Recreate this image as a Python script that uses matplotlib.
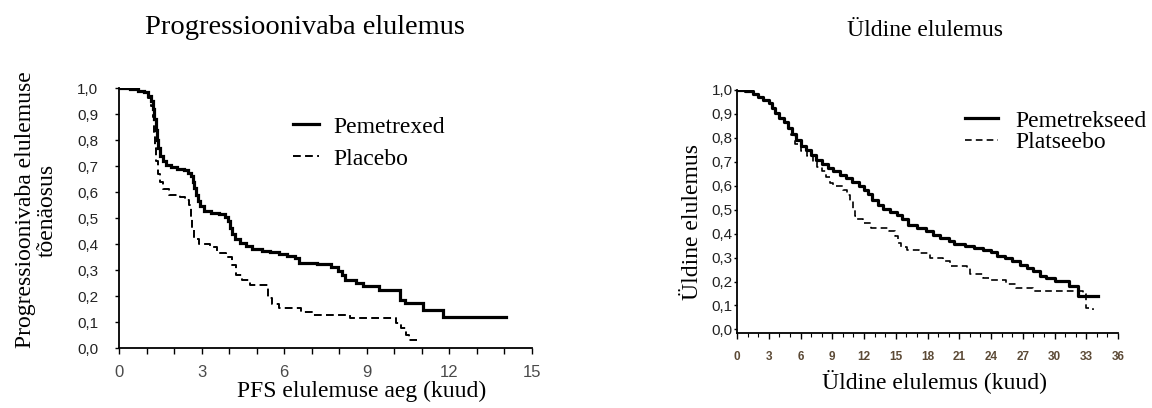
import matplotlib
matplotlib.use("Agg")
import matplotlib.pyplot as plt
from matplotlib.ticker import MultipleLocator, FixedLocator
import logging
logging.getLogger('matplotlib.font_manager').setLevel(logging.ERROR)

# ---------------- data ----------------
pfs_title = "Progressioonivaba elulemus"
os_title = "Üldine elulemus"
pfs_xlabel = "PFS elulemuse aeg (kuud)"
os_xlabel = "Üldine elulemus (kuud)"
pfs_ylabel = "Progressioonivaba elulemuse\ntõenäosus"
os_ylabel = "Üldine elulemus"
pfs_labels = ["Pemetrexed", "Placebo"]
os_labels = ["Pemetrekseed", "Platseebo"]

y_ticks = [0.0, 0.1, 0.2, 0.3, 0.4, 0.5, 0.6, 0.7, 0.8, 0.9, 1.0]
y_ticklabels = ["0,0", "0,1", "0,2", "0,3", "0,4", "0,5", "0,6", "0,7", "0,8", "0,9", "1,0"]
pfs_xticks = [0, 3, 6, 9, 12, 15]
os_xticks = [0, 3, 6, 9, 12, 15, 18, 21, 24, 27, 30, 33, 36]

pfs_pem_t = [0, 0.4, 0.7, 0.9, 1.05, 1.15, 1.22, 1.28, 1.33, 1.38, 1.43, 1.5, 1.58, 1.7, 1.9,
             2.1, 2.35, 2.5, 2.6, 2.68, 2.74, 2.8, 2.88, 2.96, 3.1, 3.35, 3.65, 3.85, 3.97,
             4.03, 4.12, 4.22, 4.4, 4.6, 4.82, 5.2, 5.5, 5.8, 6.1, 6.4, 6.55, 7.2, 7.7, 7.95,
             8.1, 8.22, 8.6, 8.85, 9.45, 10.2, 10.4, 11.05, 11.78, 14.06]
pfs_pem_s = [1.0, 0.995, 0.99, 0.985, 0.97, 0.95, 0.92, 0.88, 0.84, 0.80, 0.77, 0.74, 0.72,
             0.705, 0.695, 0.69, 0.683, 0.672, 0.66, 0.64, 0.615, 0.59, 0.565, 0.545, 0.527,
             0.52, 0.514, 0.503, 0.49, 0.46, 0.44, 0.42, 0.405, 0.392, 0.38, 0.375, 0.368,
             0.36, 0.355, 0.345, 0.328, 0.322, 0.312, 0.298, 0.28, 0.26, 0.25, 0.237, 0.223,
             0.185, 0.172, 0.146, 0.118, 0.118]

pfs_pla_t = [0, 0.4, 0.7, 0.95, 1.05, 1.15, 1.22, 1.27, 1.31, 1.36, 1.42, 1.5, 1.6, 1.8, 2.2,
             2.4, 2.55, 2.6, 2.66, 2.72, 2.9, 3.3, 3.55, 3.9, 4.1, 4.25, 4.45, 4.75, 5.4, 5.55,
             5.8, 6.6, 7.05, 8.4, 10.05, 10.25, 10.42, 10.55, 10.81]
pfs_pla_s = [1.0, 0.995, 0.99, 0.98, 0.96, 0.93, 0.89, 0.83, 0.77, 0.72, 0.67, 0.64, 0.61,
             0.59, 0.582, 0.568, 0.55, 0.5, 0.46, 0.42, 0.4, 0.39, 0.365, 0.35, 0.32, 0.28,
             0.263, 0.242, 0.192, 0.17, 0.155, 0.14, 0.127, 0.114, 0.095, 0.077, 0.05, 0.032,
             0.032]

os_pem_t = [0, 0.72, 1.5, 2.0, 2.5, 3.0, 3.3, 3.6, 4.0, 4.4, 4.8, 5.2, 5.6, 6.0, 6.5, 7.0,
            7.5, 8.0, 8.6, 9.1, 9.7, 10.3, 10.9, 11.5, 12.0, 12.4, 12.8, 13.3, 13.8, 14.5,
            15.1, 15.6, 16.2, 17.0, 17.9, 18.5, 19.2, 20.0, 20.5, 21.5, 22.4, 23.2, 24.0,
            24.6, 25.3, 26.0, 26.7, 27.4, 28.0, 28.6, 29.2, 30.0, 31.4, 32.2, 34.1]
os_pem_s = [1.0, 0.995, 0.985, 0.972, 0.958, 0.945, 0.925, 0.905, 0.885, 0.865, 0.84, 0.815,
            0.79, 0.768, 0.748, 0.727, 0.708, 0.69, 0.675, 0.66, 0.645, 0.632, 0.615, 0.598,
            0.582, 0.565, 0.54, 0.52, 0.502, 0.49, 0.478, 0.46, 0.435, 0.425, 0.41, 0.395,
            0.38, 0.37, 0.358, 0.35, 0.34, 0.333, 0.322, 0.306, 0.297, 0.284, 0.271, 0.258,
            0.243, 0.225, 0.215, 0.203, 0.18, 0.139, 0.139]

os_pla_t = [0, 0.72, 1.5, 2.0, 2.5, 3.0, 3.3, 3.6, 4.0, 4.4, 4.8, 5.1, 5.5, 6.0, 6.6, 7.2,
            7.6, 8.0, 8.4, 8.8, 9.1, 10.0, 10.4, 10.7, 10.95, 11.15, 11.35, 11.9, 12.7, 14.4,
            14.9, 15.2, 15.5, 16.1, 17.2, 18.2, 19.5, 20.1, 21.7, 22.0, 23.2, 24.0, 25.45,
            26.4, 28.0, 32.7, 33.0, 33.6]
os_pla_s = [1.0, 0.995, 0.985, 0.972, 0.958, 0.945, 0.925, 0.905, 0.885, 0.865, 0.84, 0.81,
            0.775, 0.745, 0.725, 0.7, 0.68, 0.66, 0.635, 0.612, 0.597, 0.583, 0.56, 0.535,
            0.505, 0.475, 0.46, 0.445, 0.425, 0.41, 0.39, 0.36, 0.345, 0.333, 0.32, 0.3,
            0.285, 0.265, 0.257, 0.23, 0.215, 0.208, 0.188, 0.174, 0.16, 0.146, 0.09, 0.083]

# ---------------- figure ----------------
W, H = 1152, 408
fig = plt.figure(figsize=(W / 100, H / 100), dpi=100)
fig.patch.set_facecolor("white")

SERIF = ["Liberation Serif", "DejaVu Serif"]
SANS = ["Liberation Sans", "DejaVu Sans"]
NARROW = ["Liberation Sans Narrow", "Liberation Sans", "DejaVu Sans"]


def ax_rect(x0, x1, ytop, ybot):
    return [x0 / W, 1 - ybot / H, (x1 - x0) / W, (ybot - ytop) / H]


ax1 = fig.add_axes(ax_rect(119, 532, 88, 348))
ax2 = fig.add_axes(ax_rect(737, 1118, 90, 333))

for ax in (ax1, ax2):
    ax.spines["top"].set_visible(False)
    ax.spines["right"].set_visible(False)
    ax.spines["left"].set_linewidth(1.3)
    ax.spines["bottom"].set_linewidth(1.3)
    ax.set_yticks(y_ticks)
    ax.set_yticklabels(y_ticklabels, family=SANS, fontsize=11, color="#222222")

# ---- left: PFS ----
ax1.plot(pfs_pem_t, pfs_pem_s, drawstyle="steps-post", color="black", lw=2.3,
         label=pfs_labels[0], solid_joinstyle="miter")
ax1.plot(pfs_pla_t, pfs_pla_s, drawstyle="steps-post", color="black", lw=1.4,
         ls=(0, (4, 2.2)), label=pfs_labels[1])
ax1.set_xlim(0, 15)
ax1.set_ylim(0, 1.0)
ax1.xaxis.set_major_locator(FixedLocator(pfs_xticks))
ax1.xaxis.set_minor_locator(MultipleLocator(1))
ax1.set_xticklabels([str(v) for v in pfs_xticks], family=NARROW, fontsize=12, color="#4a4a4a")
ax1.tick_params(axis="x", which="both", direction="out", length=4, width=1, pad=8)
ax1.tick_params(axis="y", direction="out", length=3, width=1, pad=12)

leg1 = ax1.legend(loc="upper left", bbox_to_anchor=(293 / W, 1 - 116 / H),
                  bbox_transform=fig.transFigure, frameon=False, prop={"family": SERIF, "size": 17},
                  handlelength=1.1, handletextpad=0.6, labelspacing=0.45, borderpad=0,
                  borderaxespad=0)

# ---- right: OS ----
ax2.plot(os_pem_t, os_pem_s, drawstyle="steps-post", color="black", lw=2.3,
         label=os_labels[0])
ax2.plot(os_pla_t, os_pla_s, drawstyle="steps-post", color="black", lw=1.2,
         ls=(0, (4, 2.5)), label=os_labels[1])
ax2.set_xlim(0, 36)
ax2.set_ylim(-0.015, 1.0)
ax2.xaxis.set_major_locator(FixedLocator(os_xticks))
ax2.xaxis.set_minor_locator(MultipleLocator(1))
ax2.set_xticklabels([str(v) for v in os_xticks], family=NARROW, fontsize=8.5,
                    fontweight="bold", color="#5c4a36")
ax2.tick_params(axis="x", which="major", direction="out", length=4, width=1, pad=9)
ax2.tick_params(axis="x", which="minor", direction="out", length=3, width=0.8)
ax2.tick_params(axis="y", direction="out", length=2, width=1, pad=1)

leg2 = ax2.legend(loc="upper left", bbox_to_anchor=(965 / W, 1 - 110 / H),
                  bbox_transform=fig.transFigure, frameon=False, prop={"family": SERIF, "size": 17},
                  handlelength=1.4, handletextpad=0.75, labelspacing=0.0, borderpad=0,
                  borderaxespad=0)

# ---- titles and axis labels ----
fig.text(305 / W, 1 - 28 / H, pfs_title, family=SERIF, fontsize=20.5, ha="center", va="center")
fig.text(925 / W, 1 - 31 / H, os_title, family=SERIF, fontsize=17, ha="center", va="center")
fig.text(362 / W, 1 - 391 / H, pfs_xlabel, family=SERIF, fontsize=17, ha="center", va="center")
fig.text(935 / W, 1 - 381 / H, os_xlabel, family=SERIF, fontsize=17, ha="center", va="center")
fig.text(36 / W, 1 - 210 / H, pfs_ylabel, family=SERIF, fontsize=17, ha="center", va="center",
         rotation=90, multialignment="center", linespacing=1.05)
fig.text(692 / W, 1 - 222 / H, os_ylabel, family=SERIF, fontsize=17, ha="center", va="center",
         rotation=90)

fig.savefig("out.png", dpi=100, facecolor="white")
